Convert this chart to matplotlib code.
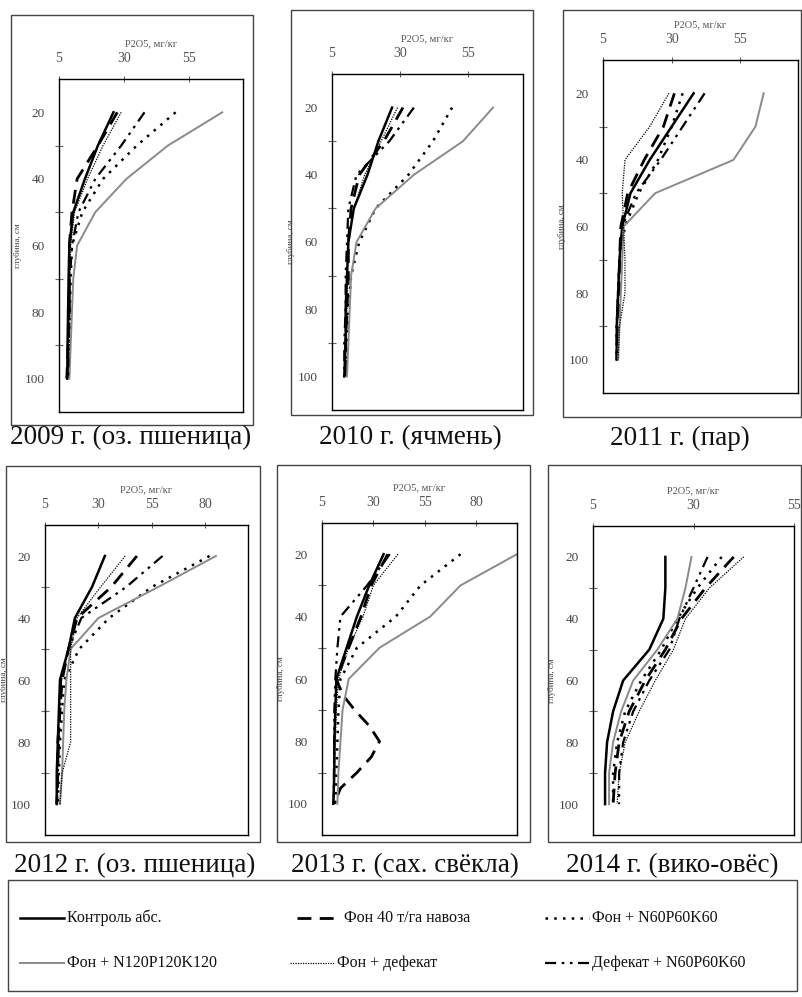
"""P2O5 depth profiles by year and fertiliser treatment (six panels + shared legend)."""

import matplotlib
matplotlib.use("Agg")
import matplotlib.pyplot as plt
from matplotlib.patches import Rectangle

plt.rcParams["font.family"] = ["Liberation Serif", "DejaVu Serif"]

W, H = 802, 997

DEPTHS = [20, 30, 40, 50, 60, 70, 80, 90, 100]

TREATMENTS = [
    "Контроль абс.",
    "Фон 40 т/га навоза",
    "Фон + N60P60K60",
    "Фон + N120P120K120",
    "Фон + дефекат",
    "Дефекат + N60P60K60",
]

# P2O5, мг/кг per treatment, one list per year (same order as TREATMENTS)
P2009 = [
    [26, 20, 15, 10.5, 9, 8.7, 8.5, 8.3, 8.2],
    [27.5, 20, 12, 10, 9, 9, 9, 8.5, 8],
    [50, 35, 22, 14, 10, 9.5, 9.2, 9, 8.8],
    [68, 47, 31, 19, 12, 10.5, 10, 9.5, 9],
    [29, 22, 16, 11, 9.5, 9.3, 9, 8.8, 8.5],
    [38, 29, 19, 12.5, 10, 9.2, 9, 8.7, 8.5],
]
P2010 = [
    [27, 22, 18, 13, 11, 10.5, 10, 10, 9.5],
    [31, 24, 15, 12, 11, 11, 10.5, 10, 10],
    [49, 42, 33, 21, 15, 12, 11, 10.5, 10],
    [64, 53, 35, 21, 14, 12, 11.5, 11, 10.5],
    [29, 23, 17, 13, 11, 10.5, 10.5, 10, 9.5],
    [35, 26, 14, 11, 10.5, 10, 10, 9.5, 9.5],
]
P2011 = [
    [38, 30, 22, 15, 12, 11, 10.5, 10, 10],
    [31, 27, 20, 14, 11.5, 11, 11, 10.5, 10],
    [34, 30, 25, 18, 13, 11, 10.5, 10, 10],
    [63.5, 60.5, 52.5, 24, 12.5, 12, 11.5, 11, 10.5],
    [29, 22, 13, 12, 12.5, 13, 13, 11, 10.5],
    [42, 34, 26, 17, 12, 11, 10.5, 10, 10],
]
P2012 = [
    [33, 27, 19, 16, 12, 11.5, 11, 10.5, 10.5],
    [48, 36, 20, 16, 13, 12, 11, 11, 10.5],
    [82, 55, 35, 21, 14, 13, 12, 11.5, 11],
    [85, 58, 30, 17, 15, 14, 13.5, 13, 12],
    [42.5, 31, 20, 17, 17, 17, 17, 13, 12],
    [60, 43, 22, 16, 12.5, 12, 11.5, 11, 10.5],
]
P2013 = [
    [35, 28, 22, 17, 12, 11.5, 11, 11, 10.5],
    [37, 29, 24, 18, 12, 21, 33, 22, 11],
    [72.5, 53, 41, 22, 14, 13, 12.5, 12, 11.5],
    [100, 72.5, 57.7, 33, 18, 15, 14, 13, 12.5],
    [42, 30, 25, 18, 13, 12, 11.5, 11, 10.8],
    [38, 27, 14, 12.5, 11.5, 11, 11, 10.8, 10.8],
]
# the manure curve in 2013 was sampled more densely around its bulge
P2013_MANURE_DEPTHS = [20, 30, 40, 50, 60, 65, 70, 75, 80, 85, 90, 95, 100]
P2013_MANURE = [37, 29, 24, 18, 12, 15, 21, 28, 33, 29, 22, 14, 11]
P2014 = [
    [23, 23, 22.5, 19, 12.5, 10, 8.5, 8, 8],
    [40, 33, 27, 23, 18, 14, 11.5, 10.5, 10],
    [37, 31, 26, 22, 17, 13, 11, 10, 10],
    [29.5, 28, 26, 21, 15, 12, 10, 9, 9],
    [42.5, 34, 28, 25, 20.5, 16.5, 13, 11.5, 11],
    [33.5, 30, 26.5, 24, 19, 15, 12.5, 11.5, 11.5],
]

YEAR_TITLES = [
    "2009 г. (оз. пшеница)",
    "2010 г. (ячмень)",
    "2011 г. (пар)",
    "2012 г. (оз. пшеница)",
    "2013 г. (сах. свёкла)",
    "2014 г. (вико-овёс)",
]
YEAR_DATA = [P2009, P2010, P2011, P2012, P2013, P2014]
X_MAX = [76, 75, 76, 100, 100, 55]
X_TICKS = [[5, 30, 55], [5, 30, 55], [5, 30, 55], [5, 30, 55, 80], [5, 30, 55, 80], [5, 30, 55]]

STYLES = [
    dict(color="black", lw=1.8, ls="-"),
    dict(color="black", lw=2.0, ls=(0, (5, 3))),
    dict(color="black", lw=1.8, ls=(0, (1, 2.5))),
    dict(color="#8a8a8a", lw=1.4, ls="-"),
    dict(color="black", lw=0.9, ls=(0, (1, 1))),
    dict(color="black", lw=1.6, ls=(0, (5, 2.5, 1.2, 2.5, 1.2, 2.5))),
]

# pixel layout: inner axes (left, top, right, bottom), outer frame, title centre
INNER = [(59, 79, 243, 412), (332, 74, 523, 410), (603, 60, 798, 393),
         (45, 525, 248, 835), (322, 523, 517, 835), (593, 526, 794, 835)]
OUTER = [(11, 15, 253, 425), (291, 10, 533, 415), (563, 10, 801, 417),
         (6, 466, 260, 842), (277, 465, 530, 842), (548, 465, 801, 842)]
TITLE_POS = [(131, 438), (410, 438), (680, 438), (135, 866), (405, 866), (672, 866)]


def px_rect(l, t, r, b):
    return [l / W, 1 - b / H, (r - l) / W, (b - t) / H]


def draw_panel(fig, i):
    ax = fig.add_axes(px_rect(*INNER[i]))
    for k, (series, style) in enumerate(zip(YEAR_DATA[i], STYLES)):
        if i == 4 and k == 1:
            ax.plot(P2013_MANURE, P2013_MANURE_DEPTHS, **style)
        else:
            ax.plot(series, DEPTHS, **style)
    ax.set_xlim(5, X_MAX[i])
    ax.set_ylim(110, 10)
    ax.xaxis.tick_top()
    ax.xaxis.set_label_position("top")
    ax.set_xticks(X_TICKS[i])
    ax.tick_params(axis="x", direction="inout", length=4, width=0.7,
                   colors="#555555", labelsize=10, pad=8)
    ax.set_yticks([20, 40, 60, 80, 100])
    ax.set_yticks([30, 50, 70, 90], minor=True)
    ax.tick_params(axis="y", which="major", length=0, labelsize=9.5,
                   colors="#444444", pad=10)
    ax.tick_params(axis="y", which="minor", direction="inout", length=6,
                   width=0.8, color="#666666")
    ax.set_xlabel("P2O5, мг/кг", fontsize=7.5, color="#555555", labelpad=4)
    ax.set_ylabel("глубина, см", fontsize=6.5, color="#444444", labelpad=2)
    for sp in ax.spines.values():
        sp.set_linewidth(1.0)
        sp.set_color("black")

    l, t, r, b = OUTER[i]
    fig.patches.append(Rectangle((l / W, 1 - b / H), (r - l) / W, (b - t) / H,
                                 transform=fig.transFigure, fill=False,
                                 edgecolor="#444444", lw=1.0))
    tx, ty = TITLE_POS[i]
    fig.text(tx / W, 1 - ty / H, YEAR_TITLES[i], ha="center", va="center",
             fontsize=19.5, color="#111111")


def draw_legend(fig):
    ax = fig.add_axes([0, 0, 1, 1], facecolor="none")
    ax.set_xlim(0, W)
    ax.set_ylim(H, 0)
    ax.axis("off")
    ax.add_patch(Rectangle((8, 880), 789, 111, fill=False, edgecolor="#444444", lw=1.0))
    slots = [(20, 918), (297, 918), (545, 918), (20, 963), (290, 963), (545, 963)]
    for (x0, y0), label, style in zip(slots, TREATMENTS, STYLES):
        ax.plot([x0, x0 + 44], [y0, y0], **style)
        ax.text(x0 + 47, y0, label, ha="left", va="center", fontsize=11.5,
                color="#111111")


def main():
    fig = plt.figure(figsize=(W / 100, H / 100), dpi=100)
    for i in range(6):
        draw_panel(fig, i)
    draw_legend(fig)
    fig.savefig("out.png", dpi=100)
    plt.close(fig)


if __name__ == "__main__":
    main()
